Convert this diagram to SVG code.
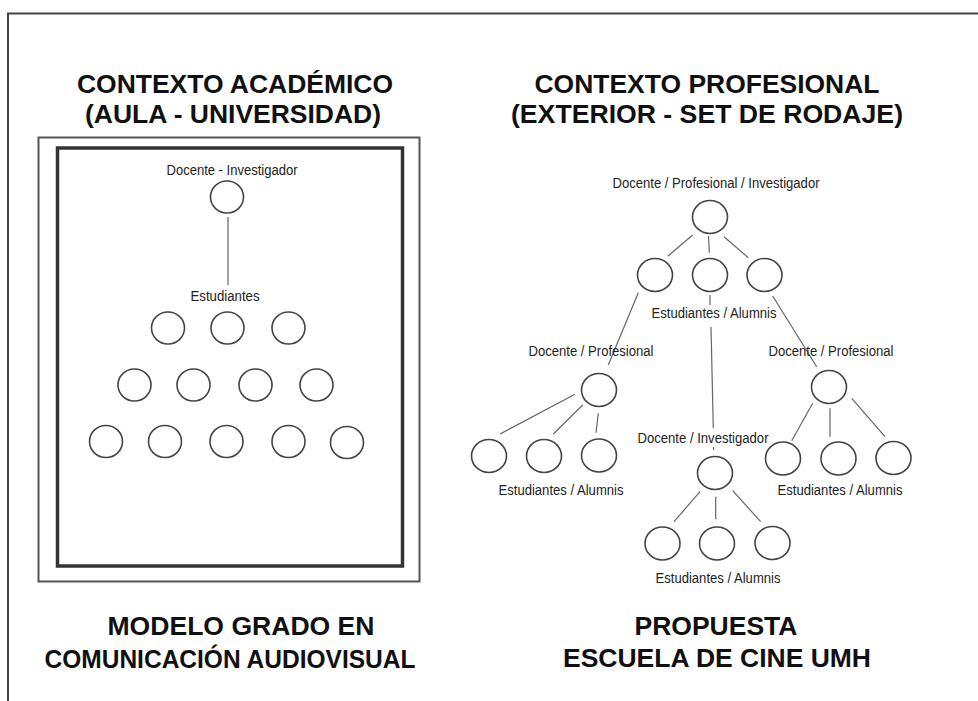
<svg xmlns="http://www.w3.org/2000/svg" width="978" height="701" viewBox="0 0 978 701">
<style>
.title{font-family:"Liberation Sans",Arial,sans-serif;font-weight:bold;font-size:25px;fill:#111;text-anchor:middle}
.lbl{font-family:"Liberation Sans",Arial,sans-serif;font-size:14px;fill:#222;text-anchor:middle}
.node{fill:#fff;stroke:#444;stroke-width:1.6}
.edge{stroke:#666;stroke-width:1.2;fill:none}
</style>
<rect width="978" height="701" fill="#fff"/>
<g id="frame">
<path d="M8,701 V13.5 H978" fill="none" stroke="#444" stroke-width="2"/>
</g>
<g id="titles">
<text class="title" x="235" y="93" textLength="316" lengthAdjust="spacingAndGlyphs">CONTEXTO ACADÉMICO</text>
<text class="title" x="233" y="123" textLength="296" lengthAdjust="spacingAndGlyphs">(AULA - UNIVERSIDAD)</text>
<text class="title" x="707" y="93" textLength="345" lengthAdjust="spacingAndGlyphs">CONTEXTO PROFESIONAL</text>
<text class="title" x="707" y="123" textLength="392" lengthAdjust="spacingAndGlyphs">(EXTERIOR - SET DE RODAJE)</text>
<text class="title" x="241" y="635" textLength="267" lengthAdjust="spacingAndGlyphs">MODELO GRADO EN</text>
<text class="title" x="230" y="668" textLength="371" lengthAdjust="spacingAndGlyphs">COMUNICACIÓN AUDIOVISUAL</text>
<text class="title" x="716" y="635" textLength="163" lengthAdjust="spacingAndGlyphs">PROPUESTA</text>
<text class="title" x="717" y="667" textLength="308" lengthAdjust="spacingAndGlyphs">ESCUELA DE CINE UMH</text>
</g>
<g id="aula-box">
<rect x="38.5" y="137.5" width="381" height="444" fill="none" stroke="#555" stroke-width="2"/>
<rect x="57.5" y="148" width="345" height="418" fill="none" stroke="#333" stroke-width="3.5"/>
</g>
<g id="connectors">
<line class="edge" x1="228" y1="217" x2="228" y2="285" stroke="#999"/>
<line class="edge" x1="692.7" y1="235" x2="668" y2="256"/>
<line class="edge" x1="708.5" y1="236" x2="709.3" y2="252.7"/>
<line class="edge" x1="724" y1="236.7" x2="748.3" y2="257.7"/>
<line class="edge" x1="638.3" y1="292.7" x2="608.3" y2="365"/>
<line class="edge" x1="710" y1="295" x2="710" y2="305"/>
<line class="edge" x1="711" y1="327" x2="713.3" y2="428.3"/>
<line class="edge" x1="713.5" y1="447" x2="713.5" y2="450"/>
<line class="edge" x1="772.7" y1="296" x2="816.7" y2="366.7"/>
<line class="edge" x1="575" y1="394.3" x2="500" y2="434"/>
<line class="edge" x1="582.7" y1="405" x2="553.3" y2="434"/>
<line class="edge" x1="598.3" y1="413.3" x2="596" y2="432.7"/>
<line class="edge" x1="700" y1="491.7" x2="674" y2="521.7"/>
<line class="edge" x1="715.7" y1="496.7" x2="715.7" y2="519.3"/>
<line class="edge" x1="732.7" y1="490.7" x2="760.7" y2="521.7"/>
<line class="edge" x1="812.7" y1="403.3" x2="791.7" y2="440.7"/>
<line class="edge" x1="830" y1="408.3" x2="830" y2="436.7"/>
<line class="edge" x1="851.7" y1="398.3" x2="885" y2="436.7"/>
</g>
<g id="docente-investigador-aula">
<text class="lbl" x="232" y="175" textLength="131" lengthAdjust="spacingAndGlyphs">Docente - Investigador</text>
<ellipse class="node" cx="227" cy="197" rx="16.5" ry="16"/>
</g>
<g id="estudiantes-aula">
<text class="lbl" x="225" y="301" textLength="69" lengthAdjust="spacingAndGlyphs">Estudiantes</text>
<ellipse class="node" cx="168" cy="328" rx="16.5" ry="16"/>
<ellipse class="node" cx="227.5" cy="328" rx="16.5" ry="16"/>
<ellipse class="node" cx="288.5" cy="328" rx="16.5" ry="16"/>
<ellipse class="node" cx="134.5" cy="385" rx="16.5" ry="16"/>
<ellipse class="node" cx="193.5" cy="385" rx="16.5" ry="16"/>
<ellipse class="node" cx="255.5" cy="385" rx="16.5" ry="16"/>
<ellipse class="node" cx="316.5" cy="385" rx="16.5" ry="16"/>
<ellipse class="node" cx="106" cy="441.5" rx="16.5" ry="16"/>
<ellipse class="node" cx="165" cy="441.5" rx="16.5" ry="16"/>
<ellipse class="node" cx="226.5" cy="441.5" rx="16.5" ry="16"/>
<ellipse class="node" cx="288.5" cy="441.5" rx="16.5" ry="16"/>
<ellipse class="node" cx="347" cy="442.5" rx="16.5" ry="16"/>
</g>
<g id="docente-profesional-investigador">
<text class="lbl" x="716" y="188" textLength="207" lengthAdjust="spacingAndGlyphs">Docente / Profesional / Investigador</text>
<ellipse class="node" cx="710" cy="217" rx="17.5" ry="16.5"/>
</g>
<g id="estudiantes-alumnis-top">
<ellipse class="node" cx="655" cy="275" rx="17.5" ry="16.5"/>
<ellipse class="node" cx="710" cy="275" rx="17.5" ry="16.5"/>
<ellipse class="node" cx="764.5" cy="275" rx="17.5" ry="16.5"/>
<text class="lbl" x="714" y="318" textLength="125" lengthAdjust="spacingAndGlyphs">Estudiantes / Alumnis</text>
</g>
<g id="docente-profesional-left">
<text class="lbl" x="591" y="356" textLength="125" lengthAdjust="spacingAndGlyphs">Docente / Profesional</text>
<ellipse class="node" cx="599" cy="390" rx="17.5" ry="16.5"/>
</g>
<g id="estudiantes-alumnis-left">
<ellipse class="node" cx="489" cy="456" rx="17.5" ry="16.5"/>
<ellipse class="node" cx="544" cy="456" rx="17.5" ry="16.5"/>
<ellipse class="node" cx="599" cy="455.5" rx="17.5" ry="16.5"/>
<text class="lbl" x="561" y="495" textLength="125" lengthAdjust="spacingAndGlyphs">Estudiantes / Alumnis</text>
</g>
<g id="docente-investigador-mid">
<text class="lbl" x="703" y="443" textLength="131" lengthAdjust="spacingAndGlyphs">Docente / Investigador</text>
<ellipse class="node" cx="715" cy="473" rx="17.5" ry="16.5"/>
</g>
<g id="estudiantes-alumnis-mid">
<ellipse class="node" cx="662.5" cy="543.5" rx="17.5" ry="16.5"/>
<ellipse class="node" cx="717" cy="543.5" rx="17.5" ry="16.5"/>
<ellipse class="node" cx="772.5" cy="543" rx="17.5" ry="16.5"/>
<text class="lbl" x="718" y="583" textLength="125" lengthAdjust="spacingAndGlyphs">Estudiantes / Alumnis</text>
</g>
<g id="docente-profesional-right">
<text class="lbl" x="831" y="356" textLength="125" lengthAdjust="spacingAndGlyphs">Docente / Profesional</text>
<ellipse class="node" cx="829" cy="387" rx="17.5" ry="16.5"/>
</g>
<g id="estudiantes-alumnis-right">
<ellipse class="node" cx="783" cy="458.5" rx="17.5" ry="16.5"/>
<ellipse class="node" cx="838.5" cy="458.5" rx="17.5" ry="16.5"/>
<ellipse class="node" cx="893.5" cy="458" rx="17.5" ry="16.5"/>
<text class="lbl" x="840" y="495" textLength="125" lengthAdjust="spacingAndGlyphs">Estudiantes / Alumnis</text>
</g>
</svg>
